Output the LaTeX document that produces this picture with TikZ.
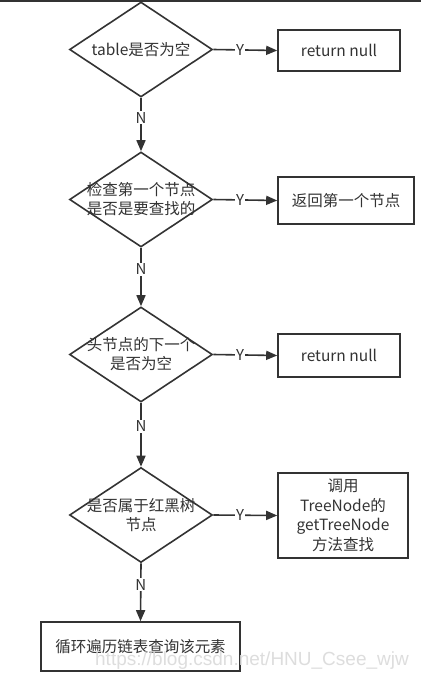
\documentclass[tikz,border=0pt]{standalone}
\usepackage{fontspec}
\setmainfont{Noto Sans CJK SC}
\newfontfamily\wmfont{Liberation Sans}
\usetikzlibrary{shapes.geometric,arrows.meta}
\definecolor{ink}{HTML}{333333}
\definecolor{wm}{HTML}{DADADA}
\tikzset{
  dia/.style={draw=ink, line width=1.6pt, diamond, aspect=1.5, minimum width=143pt, minimum height=95pt, inner sep=0pt},
  box/.style={draw=ink, line width=1.6pt, rectangle, inner sep=0pt, align=center, text=ink, font=\fontsize{15.5}{19.5}\selectfont},
  txt/.style={align=center, text=ink, font=\fontsize{15.5}{19}\selectfont, inner sep=0pt},
  conn/.style={draw=ink, line width=1.6pt, -{Triangle[length=11pt,width=9pt]}},
  lbl/.style={fill=white, text=ink, font=\fontsize{15}{16}\selectfont, inner sep=1pt}
}
\begin{document}
\begin{tikzpicture}[x=1pt,y=-1pt]
\useasboundingbox (0,0) rectangle (421,683);
\fill[white] (0,0) rectangle (421,683);
\draw[ink, line width=1.5pt] (0,0.75) -- (421,0.75);

% diamonds
\node[dia] (d1) at (141,49.5) {};
\node[txt] (t1) at (d1) {table是否为空};
\node[dia] (d2) at (141,199.5) {};
\node[txt] (t2) at (d2) {检查第一个节点\\是否是要查找的};
\node[dia] (d3) at (141,354.5) {};
\node[txt] (t3) at (d3) {头节点的下一个\\是否为空};
\node[dia] (d4) at (141,515) {};
\node[txt] (t4) at (d4) {是否属于红黑树\\节点};

% boxes
\node[box, minimum width=122pt, minimum height=41pt] (b1) at (339,50.5) {return null};
\node[box, minimum width=136pt, minimum height=47pt] (b2) at (346,200.5) {返回第一个节点};
\node[box, minimum width=122pt, minimum height=43pt] (b3) at (339,355.5) {return null};
\node[box, minimum width=130pt, minimum height=85pt] (b4) at (343,515.5) {调用\\TreeNode的\\getTreeNode\\方法查找};
\node[box, minimum width=199pt, minimum height=49pt] (b5) at (140.5,646.5) {循环遍历链表查询该元素};

% Y connectors
\draw[conn] (d1.east) -- node[lbl, pos=0.42] {Y} (b1.west);
\draw[conn] (d2.east) -- node[lbl, pos=0.42] {Y} (b2.west);
\draw[conn] (d3.east) -- node[lbl, pos=0.42] {Y} (b3.west);
\draw[conn] (d4.east) -- node[lbl, pos=0.42] {Y} (b4.west);

% N connectors
\draw[conn] (d1.south) -- node[lbl, pos=0.37] {N} (d2.north);
\draw[conn] (d2.south) -- node[lbl, pos=0.37] {N} (d3.north);
\draw[conn] (d3.south) -- node[lbl, pos=0.37] {N} (d4.north);
\draw[conn] (d4.south) -- node[lbl, pos=0.37] {N} (b5.north);

% watermark
\node[text=wm, font=\wmfont\fontsize{19}{20}\selectfont, inner sep=0pt, opacity=0.9] (wmk) at (252,661) {https://blog.csdn.net/HNU\_Csee\_wjw};
\end{tikzpicture}
\end{document}
